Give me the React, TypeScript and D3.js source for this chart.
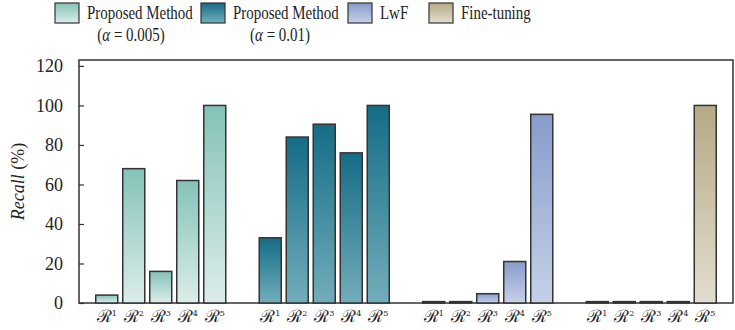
import React, { useRef, useEffect } from 'react';
import * as d3 from 'd3';

const methods = ['Proposed Method (α = 0.005)', 'Proposed Method (α = 0.01)', 'LwF', 'Fine-tuning'];
const rounds = ['1', '2', '3', '4', '5'];
const propSmall = [4, 68, 16, 62, 100];
const propLarge = [33, 84, 90.5, 76, 100];
const lwf = [0.7, 0.7, 4.7, 21, 95.5];
const fineTuning = [0.7, 0.7, 0.7, 0.7, 100];
const yTicks = [0, 20, 40, 60, 80, 100, 120];

const seriesValues = [propSmall, propLarge, lwf, fineTuning];
const gradTop = ['#84c2b8', '#156c86', '#889ccb', '#b6aa84'];
const gradBottom = ['#dcedea', '#72adba', '#c6d1e8', '#e2ddcf'];

const W = 735;
const H = 330;
const margin = { top: 60, right: 2, bottom: 27, left: 79 };

const App = () => {
  const svgRef = useRef<SVGSVGElement>(null);

  useEffect(() => {
    const svg = d3.select(svgRef.current);
    svg.selectAll('*').remove();
    const serif = '"Liberation Serif", "Times New Roman", serif';

    const x0 = d3.scaleBand<number>()
      .domain(d3.range(methods.length))
      .range([margin.left, W - margin.right]);
    const x1 = d3.scaleBand<string>()
      .domain(rounds)
      .range([0, x0.bandwidth()])
      .paddingInner(0.185)
      .paddingOuter(0.62);
    const y = d3.scaleLinear().domain([0, 123]).range([H - margin.bottom, margin.top]);

    const defs = svg.append('defs');
    methods.forEach((m, i) => {
      const g = defs.append('linearGradient')
        .attr('id', `grad${i}`)
        .attr('x1', 0).attr('y1', 0).attr('x2', 0).attr('y2', 1);
      g.append('stop').attr('offset', '0%').attr('stop-color', gradTop[i]);
      g.append('stop').attr('offset', '100%').attr('stop-color', gradBottom[i]);
    });

    // frame
    svg.append('rect')
      .attr('x', margin.left).attr('y', margin.top)
      .attr('width', W - margin.right - margin.left)
      .attr('height', H - margin.bottom - margin.top)
      .attr('fill', 'none').attr('stroke', '#333').attr('stroke-width', 1.5);

    // y axis ticks (inward)
    const yAxis = svg.append('g').attr('transform', `translate(${margin.left},0)`)
      .call(d3.axisLeft(y).tickValues(yTicks).tickSize(-5).tickPadding(16));
    yAxis.select('.domain').remove();
    yAxis.selectAll('line').attr('stroke', '#333').attr('stroke-width', 1.2);
    yAxis.selectAll('text')
      .attr('font-family', serif).attr('font-size', 18).attr('fill', '#222');

    svg.append('text')
      .attr('transform', `translate(24,${(margin.top + H - margin.bottom) / 2}) rotate(-90)`)
      .attr('text-anchor', 'middle')
      .attr('font-family', serif).attr('font-size', 18).attr('fill', '#222')
      .call(t => {
        t.append('tspan').attr('font-style', 'italic').text('Recall');
        t.append('tspan').text(' (%)');
      });

    // bars
    seriesValues.forEach((vals, i) => {
      const g = svg.append('g').attr('transform', `translate(${x0(i)},0)`);
      g.selectAll('rect')
        .data(vals)
        .enter()
        .append('rect')
        .attr('x', (d, j) => x1(rounds[j]) as number)
        .attr('y', d => y(d))
        .attr('width', x1.bandwidth())
        .attr('height', d => y(0) - y(d))
        .attr('fill', `url(#grad${i})`)
        .attr('stroke', '#333')
        .attr('stroke-width', 1.5);

      g.selectAll('text.xl')
        .data(rounds)
        .enter()
        .append('text')
        .attr('class', 'xl')
        .attr('x', d => (x1(d) as number) + x1.bandwidth() / 2)
        .attr('y', H - 8)
        .attr('text-anchor', 'middle')
        .attr('font-family', '"DejaVu Serif", serif')
        .attr('font-size', 17)
        .attr('fill', '#222')
        .each(function (d) {
          const t = d3.select(this);
          t.append('tspan').text('ℛ');
          t.append('tspan').attr('font-size', 8).attr('dy', -6).text(d);
        });
    });

    // legend
    const legendX = [55, 201, 348, 429];
    const subCenter = [131, 280];
    const legendLines = [
      ['Proposed Method', '(α = 0.005)'],
      ['Proposed Method', '(α = 0.01)'],
      ['LwF'],
      ['Fine-tuning'],
    ];
    const squeeze = 0.83;
    legendLines.forEach((lines, i) => {
      svg.append('rect')
        .attr('x', legendX[i]).attr('y', 3)
        .attr('width', 24).attr('height', 20)
        .attr('fill', `url(#grad${i})`)
        .attr('stroke', '#333').attr('stroke-width', 1.2);
      svg.append('text')
        .attr('transform', `translate(${legendX[i] + 32},19) scale(${squeeze},1)`)
        .attr('font-family', serif).attr('font-size', 18).attr('fill', '#222')
        .text(lines[0]);
      if (lines[1]) {
        const rest = lines[1].slice(2);
        svg.append('text')
          .attr('transform', `translate(${subCenter[i]},41) scale(${squeeze},1)`)
          .attr('text-anchor', 'middle')
          .attr('font-family', serif).attr('font-size', 18).attr('fill', '#222')
          .call(t => {
            t.append('tspan').text('(');
            t.append('tspan').attr('font-style', 'italic').text('α');
            t.append('tspan').text(rest);
          });
      }
    });
  }, []);

  return (
    <svg ref={svgRef} width={W} height={H}
      style={{ position: 'absolute', left: 0, top: 0, background: '#fff' }} />
  );
};

export default App;
